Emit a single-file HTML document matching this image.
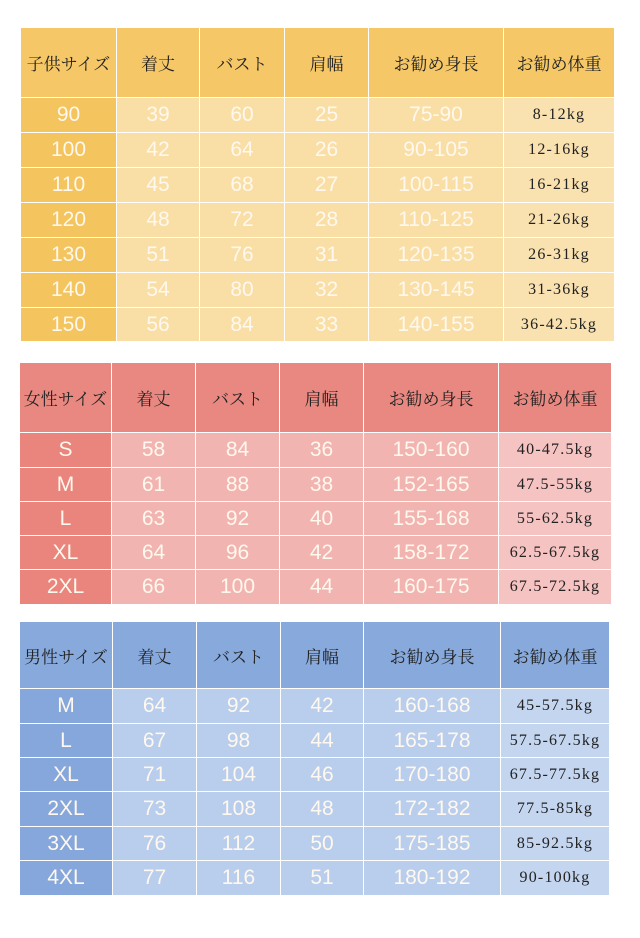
<!DOCTYPE html>
<html><head><meta charset="utf-8"><style>
body{margin:0;width:640px;height:938px;background:#fff;position:relative;overflow:hidden}
table{position:absolute;border-collapse:collapse;table-layout:fixed}
td{border:1.5px solid rgba(255,255,255,.55);text-align:center;padding:0;overflow:hidden;white-space:nowrap}
.h td{font-family:"Liberation Serif","Noto Serif CJK SC",serif;font-size:17px;color:#222}
.d td{font-family:"Liberation Sans","Noto Sans CJK JP",sans-serif;font-size:21px;color:#fff8ee}
.d td.w{font-family:"Liberation Serif","Noto Serif CJK SC",serif;font-size:16px;color:#222;letter-spacing:1.2px}
.y .h td,.y td.f{background:#f5c766}.y .d td{background:#f9dfa6}.y .d td.w{background:#fae2b0}.y .d td.f{background:#f4c45e}
.p .h td,.p td.f{background:#e88880}.p .d td{background:#f2b4b1}.p .d td.w{background:#f5c3c1}.p .d td.f{background:#e9857d}
.b .h td,.b td.f{background:#87a9dc}.b .d td{background:#b9cdec}.b .d td.w{background:#c4d5ef}.b .d td.f{background:#86a7db}
</style></head><body>
<table class="y" style="left:20px;top:27px;width:594px">
<colgroup><col style="width:96px"><col style="width:83px"><col style="width:85px"><col style="width:84px"><col style="width:135px"><col style="width:111px"></colgroup>
<tr class="h" style="height:70px"><td>子供サイズ</td><td>着丈</td><td>バスト</td><td>肩幅</td><td>お勧め身長</td><td>お勧め体重</td></tr>
<tr class="d" style="height:35px"><td class="f">90</td><td>39</td><td>60</td><td>25</td><td>75-90</td><td class="w">8-12kg</td></tr>
<tr class="d" style="height:35px"><td class="f">100</td><td>42</td><td>64</td><td>26</td><td>90-105</td><td class="w">12-16kg</td></tr>
<tr class="d" style="height:35px"><td class="f">110</td><td>45</td><td>68</td><td>27</td><td>100-115</td><td class="w">16-21kg</td></tr>
<tr class="d" style="height:35px"><td class="f">120</td><td>48</td><td>72</td><td>28</td><td>110-125</td><td class="w">21-26kg</td></tr>
<tr class="d" style="height:35px"><td class="f">130</td><td>51</td><td>76</td><td>31</td><td>120-135</td><td class="w">26-31kg</td></tr>
<tr class="d" style="height:35px"><td class="f">140</td><td>54</td><td>80</td><td>32</td><td>130-145</td><td class="w">31-36kg</td></tr>
<tr class="d" style="height:34px"><td class="f">150</td><td>56</td><td>84</td><td>33</td><td>140-155</td><td class="w">36-42.5kg</td></tr>
</table>
<table class="p" style="left:19px;top:362px;width:592px">
<colgroup><col style="width:92px"><col style="width:84px"><col style="width:84px"><col style="width:84px"><col style="width:135px"><col style="width:113px"></colgroup>
<tr class="h" style="height:70px"><td>女性サイズ</td><td>着丈</td><td>バスト</td><td>肩幅</td><td>お勧め身長</td><td>お勧め体重</td></tr>
<tr class="d" style="height:35px"><td class="f">S</td><td>58</td><td>84</td><td>36</td><td>150-160</td><td class="w">40-47.5kg</td></tr>
<tr class="d" style="height:34px"><td class="f">M</td><td>61</td><td>88</td><td>38</td><td>152-165</td><td class="w">47.5-55kg</td></tr>
<tr class="d" style="height:34px"><td class="f">L</td><td>63</td><td>92</td><td>40</td><td>155-168</td><td class="w">55-62.5kg</td></tr>
<tr class="d" style="height:34px"><td class="f">XL</td><td>64</td><td>96</td><td>42</td><td>158-172</td><td class="w">62.5-67.5kg</td></tr>
<tr class="d" style="height:35px"><td class="f">2XL</td><td>66</td><td>100</td><td>44</td><td>160-175</td><td class="w">67.5-72.5kg</td></tr>
</table>
<table class="b" style="left:19px;top:621px;width:590px">
<colgroup><col style="width:93px"><col style="width:84px"><col style="width:84px"><col style="width:83px"><col style="width:137px"><col style="width:109px"></colgroup>
<tr class="h" style="height:67px"><td>男性サイズ</td><td>着丈</td><td>バスト</td><td>肩幅</td><td>お勧め身長</td><td>お勧め体重</td></tr>
<tr class="d" style="height:35px"><td class="f">M</td><td>64</td><td>92</td><td>42</td><td>160-168</td><td class="w">45-57.5kg</td></tr>
<tr class="d" style="height:34px"><td class="f">L</td><td>67</td><td>98</td><td>44</td><td>165-178</td><td class="w">57.5-67.5kg</td></tr>
<tr class="d" style="height:34px"><td class="f">XL</td><td>71</td><td>104</td><td>46</td><td>170-180</td><td class="w">67.5-77.5kg</td></tr>
<tr class="d" style="height:35px"><td class="f">2XL</td><td>73</td><td>108</td><td>48</td><td>172-182</td><td class="w">77.5-85kg</td></tr>
<tr class="d" style="height:34px"><td class="f">3XL</td><td>76</td><td>112</td><td>50</td><td>175-185</td><td class="w">85-92.5kg</td></tr>
<tr class="d" style="height:35px"><td class="f">4XL</td><td>77</td><td>116</td><td>51</td><td>180-192</td><td class="w">90-100kg</td></tr>
</table>
</body></html>
